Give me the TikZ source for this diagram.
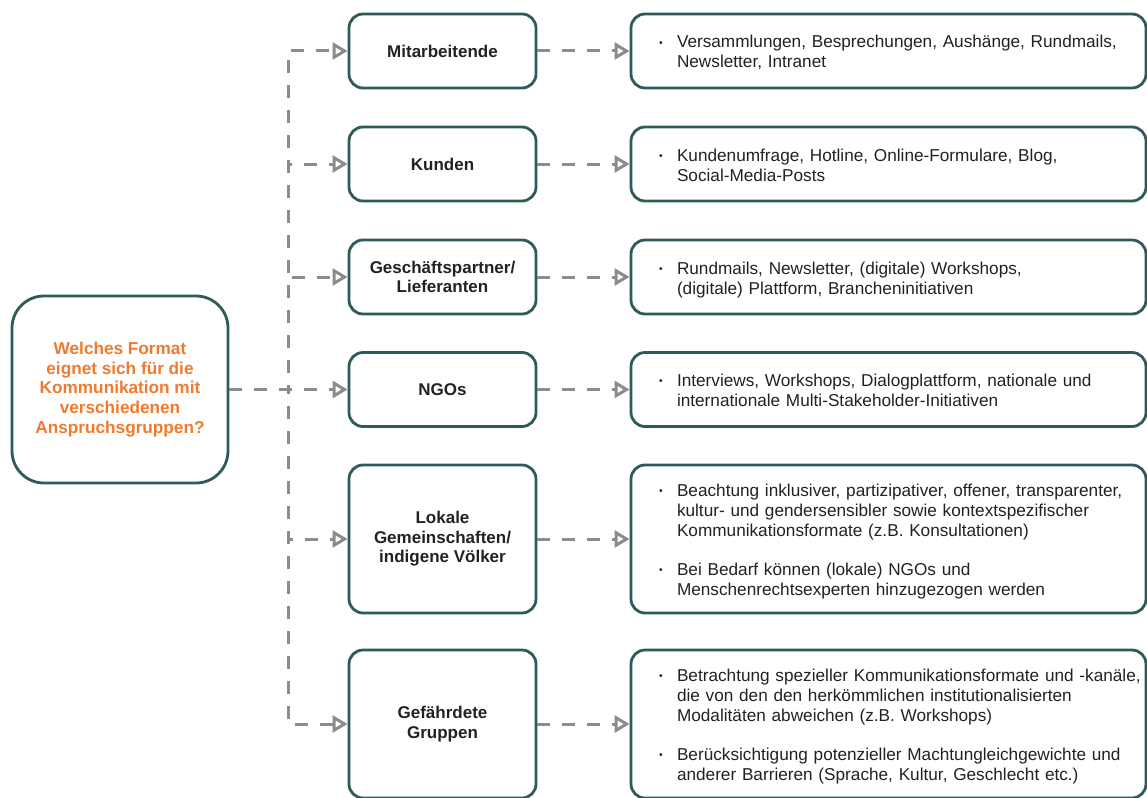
\documentclass[tikz,border=0pt]{standalone}
\usepackage{fontspec}
\setmainfont{Liberation Sans}
\usetikzlibrary{arrows.meta}
\definecolor{bord}{HTML}{2E5B59}
\definecolor{orng}{HTML}{F07A2E}
\definecolor{txt}{HTML}{222222}
\definecolor{gry}{HTML}{8C8C8C}
\newcommand{\bdot}{\raisebox{0.1em}{\scalebox{0.6}{\textbullet}}}
\newcommand{\bitem}[1]{\par\noindent\hspace*{24pt}\makebox[18pt][l]{\bdot}\begin{tabular}[t]{@{}l@{}}#1\end{tabular}\par}
\tikzset{
  box/.style={draw=bord, line width=2.8pt, fill=white, text=txt, align=center},
  qbox/.style={box, rounded corners=32pt, minimum width=216pt, minimum height=187pt,
    text=orng, font=\fontsize{17.2}{19.8}\selectfont\bfseries},
  mbox/.style={box, rounded corners=14pt, minimum width=187pt, minimum height=74pt,
    font=\fontsize{17}{19.5}\selectfont\bfseries},
  rbox/.style={draw=bord, line width=2.8pt, fill=white, text=txt, rounded corners=14pt,
    minimum width=515pt, minimum height=74pt, text width=507pt, inner xsep=4pt, inner ysep=0pt,
    align=left, font=\fontsize{17.2}{20}\selectfont},
  conn/.style={draw=gry, line width=3pt, dash pattern=on 13pt off 12pt,
    -{Triangle[open, length=15pt, width=17pt]}},
}
\begin{document}
\begin{tikzpicture}[x=1pt,y=1pt]
\useasboundingbox (0,0) rectangle (1147,-797);

\node[qbox] (q) at (120,-389.5) {Welches Format\\eignet sich für die\\Kommunikation mit\\verschiedenen\\Anspruchsgruppen?};

\node[mbox] (m1) at (442.5,-51) {Mitarbeitende};
\node[mbox] (m2) at (442.5,-164) {Kunden};
\node[mbox] (m3) at (442.5,-277) {Geschäftspartner/\\Lieferanten};
\node[mbox] (m4) at (442.5,-389.5) {NGOs};
\node[mbox, minimum height=148pt] (m5) at (442.5,-539) {Lokale\\Gemeinschaften/\\indigene Völker};
\node[mbox, minimum height=148pt] (m6) at (442.5,-724) {Gefährdete\\Gruppen};

\node[rbox] (r1) at (888.5,-51) {%
  \bitem{Versammlungen, Besprechungen, Aushänge, Rundmails,\\Newsletter, Intranet}};
\node[rbox] (r2) at (888.5,-164) {%
  \bitem{Kundenumfrage, Hotline, Online-Formulare, Blog,\\Social-Media-Posts}};
\node[rbox] (r3) at (888.5,-277) {%
  \bitem{Rundmails, Newsletter, (digitale) Workshops,\\(digitale) Plattform, Brancheninitiativen}};
\node[rbox] (r4) at (888.5,-389.5) {%
  \bitem{Interviews, Workshops, Dialogplattform, nationale und\\internationale Multi-Stakeholder-Initiativen}};
\node[rbox, minimum height=148pt] (r5) at (888.5,-539) {%
  \bitem{Beachtung inklusiver, partizipativer, offener, transparenter,\\kultur- und gendersensibler sowie kontextspezifischer\\Kommunikationsformate (z.B. Konsultationen)}
  \vspace{18pt}
  \bitem{Bei Bedarf können (lokale) NGOs und\\Menschenrechtsexperten hinzugezogen werden}};
\node[rbox, minimum height=148pt] (r6) at (888.5,-724) {%
  \bitem{Betrachtung spezieller Kommunikationsformate und -kanäle,\\die von den den herkömmlichen institutionalisierten\\Modalitäten abweichen (z.B. Workshops)}
  \vspace{18pt}
  \bitem{Berücksichtigung potenzieller Machtungleichgewichte und\\anderer Barrieren (Sprache, Kultur, Geschlecht etc.)}};

\coordinate (j) at (288,-389.5);
\draw[conn] (q.east) -- (j) |- (m1.west);
\draw[conn] (q.east) -- (j) |- (m2.west);
\draw[conn] (q.east) -- (j) |- (m3.west);
\draw[conn] (q.east) -- (m4.west);
\draw[conn] (q.east) -- (j) |- (m5.west);
\draw[conn] (q.east) -- (j) |- (m6.west);

\foreach \i in {1,...,6} {\draw[conn] (m\i.east) -- (r\i.west);}
\end{tikzpicture}
\end{document}
